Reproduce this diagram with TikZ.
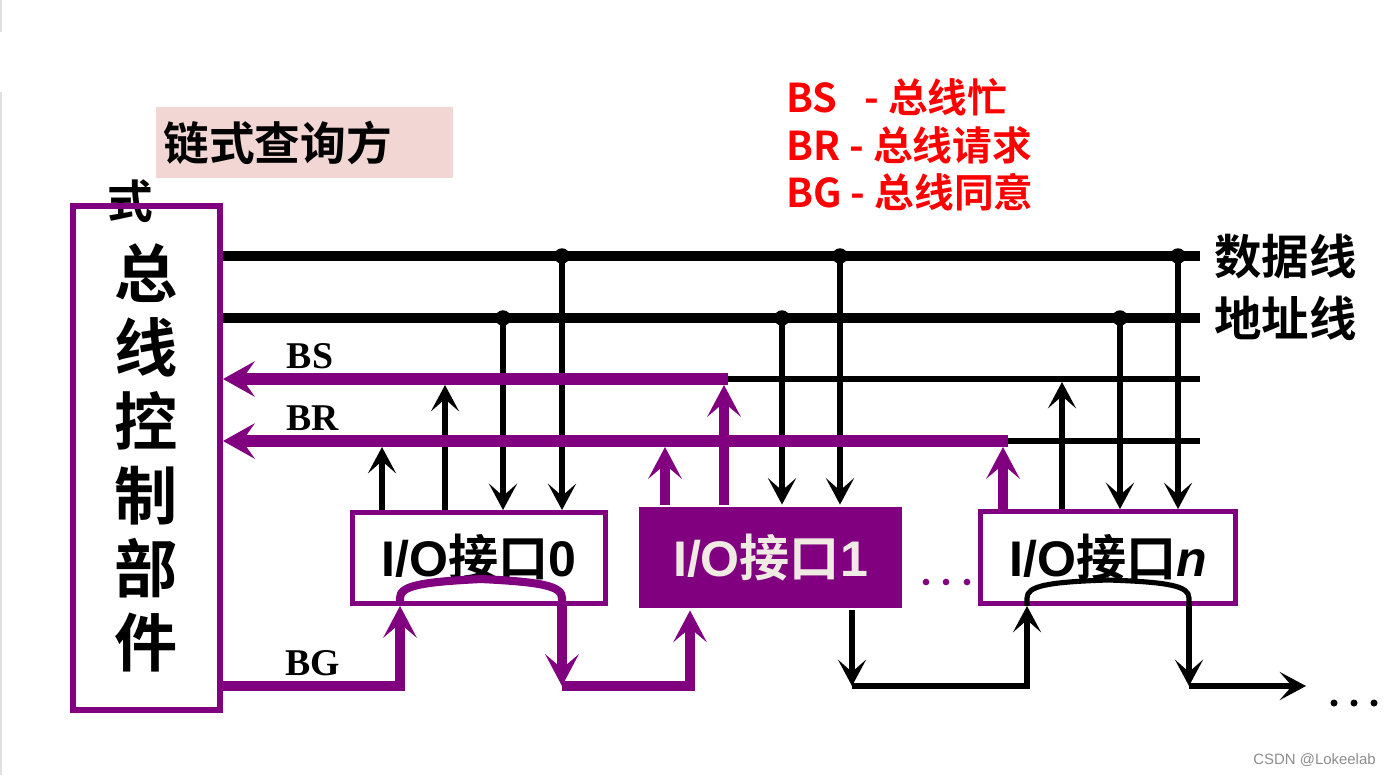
\documentclass[tikz,border=0pt]{standalone}
\usepackage{fontspec}
\usepackage{tikz}
\usetikzlibrary{arrows.meta,positioning}
\newfontfamily\cjkfont{Noto Sans CJK SC}[BoldFont={Noto Sans CJK SC Bold}]
\newfontfamily\latfont{Liberation Sans}
\newfontfamily\serfont{Liberation Serif}
\definecolor{vio}{HTML}{800080}
\definecolor{pinkbg}{HTML}{F2D6D4}
\definecolor{cream}{HTML}{EFEBE2}

\begin{document}
\begin{tikzpicture}[x=0.02cm,y=-0.02cm,
  bus/.style={line width=6.2pt},
  wire/.style={line width=2.9pt},
  pbus/.style={draw=vio,line width=6.5pt,-{Stealth[length=18pt,width=20pt,inset=7pt]}},
  barr/.style={line width=2.9pt,-{Stealth[length=15pt,width=16pt,inset=7pt]}},
  parr/.style={draw=vio,line width=5.6pt,-{Stealth[length=18pt,width=19pt,inset=8pt]}},
  iobox/.style={draw=vio,line width=2.8pt,fill=white,minimum width=5.06cm,minimum height=1.82cm,
    font=\cjkfont\bfseries\fontsize{28.5pt}{32pt}\selectfont},
  lbl/.style={inner sep=0pt,font=\serfont\bfseries\fontsize{21.5pt}{24pt}\selectfont}]

  \useasboundingbox (0,0) rectangle (1388,775);
  %\draw[color=gray] (0,0) grid[step=100] (1388,775);
  \draw[black!12,line width=1.2pt] (1,0) -- (1,32) (1,92) -- (1,775);

  % title and legend
  \node[fill=pinkbg,anchor=north west,minimum height=1.42cm,text width=5.66cm,
        inner xsep=0.14cm,inner ysep=0pt,align=left,
        font=\cjkfont\bfseries\fontsize{26pt}{30pt}\selectfont] (title) at (156,107) {链式查询方};
  \node[inner sep=0pt,font=\cjkfont\bfseries\fontsize{26pt}{30pt}\selectfont] (title2) at (130,201) {式};
  \node[anchor=west,align=left,text=red,inner sep=0pt,
        font=\cjkfont\bfseries\fontsize{22.6pt}{27pt}\selectfont] (legend) at (786,145)
        {BS\ \ \ - 总线忙\\BR - 总线请求\\BG - 总线同意};

  % control unit and interfaces
  \node[draw=vio,line width=3.4pt,minimum width=2.94cm,minimum height=10.08cm,align=center,
        font=\cjkfont\bfseries\fontsize{36pt}{42pt}\selectfont] (ctrl) at (146.5,458)
        {总\\线\\控\\制\\部\\件};
  \node[iobox] (io0) at (479,558) {{\latfont I/O}接口{\latfont 0}};
  \node[iobox,draw=none,fill=vio,text=cream,minimum width=5.26cm,minimum height=2.02cm] (io1)
        at (770.5,557.5) {{\latfont I/O}接口{\latfont 1}};
  \node[iobox,minimum width=5.1cm,minimum height=1.84cm] (ion) at (1108,557.5)
        {{\latfont I/O}接口{\latfont\itshape n}};

  % data and address lines
  \draw[bus] (ctrl.east |- 0,256) -- (1200,256) coordinate (dataR);
  \draw[bus] (ctrl.east |- 0,318) -- (1200,318) coordinate (addrR);
  \node[right=0.28cm of dataR,inner sep=0pt,font=\cjkfont\bfseries\fontsize{27pt}{30pt}\selectfont] (dlab) {数据线};
  \node[right=0.28cm of addrR,inner sep=0pt,font=\cjkfont\bfseries\fontsize{27pt}{30pt}\selectfont] (alab) {地址线};
  \foreach \x in {562,840,1178} \fill (\x,256) circle (4.4pt);
  \foreach \x in {503,782,1120} \fill (\x,318) circle (4.4pt);

  % lines down to the interfaces
  \foreach \x/\y/\n in {503/318/io0,562/256/io0,782/318/io1,840/256/io1,1120/318/ion,1178/256/ion}
    \draw[barr] (\x,\y) -- (\x,0 |- \n.north);
  \draw[barr] (382,0 |- io0.north) -- (382,447);
  \draw[barr] (445,0 |- io0.north) -- (445,385);
  \draw[barr] (1062,0 |- ion.north) -- (1062,382);

  % BS and BR
  \draw[wire] (724,379) -- (1200,379);
  \draw[wire] (1003,441) -- (1200,441);
  \draw[pbus] (728,379) -- (ctrl.east |- 0,379);
  \draw[pbus] (1008,441) -- (ctrl.east |- 0,441);
  \draw[parr] (665,0 |- io1.north) -- (665,447);
  \draw[parr] (724,0 |- io1.north) -- (724,385);
  \draw[parr] (1003,0 |- ion.north) -- (1003,447);
  \node[lbl] (bslab) at (310,356) {BS};
  \node[lbl] (brlab) at (313,418) {BR};

  % BG chain
  \draw[parr] (ctrl.east |- 0,686) -- (400,686) -- (400,0 |- io0.south);
  \draw[draw=vio,line width=4.6pt] (400,0 |- io0.south) -- (400,598)
    .. controls (400,586) and (420,582) .. (481,579)
    .. controls (542,582) and (562,586) .. (562,598) -- (562,0 |- io0.south);
  \draw[parr] (562,0 |- io0.south) -- (562,686);
  \draw[parr] (562,686) -- (690,686) -- (690,0 |- io1.south);
  \node[lbl] (bglab) at (313,663) {BG};

  \draw[barr] (852,0 |- io1.south) -- (852,686);
  \draw[barr] (852,686) -- (1027,686) -- (1027,0 |- ion.south);
  \draw[wire] (1027,0 |- ion.south) -- (1027,598)
    .. controls (1027,586) and (1047,582) .. (1108,580)
    .. controls (1169,582) and (1189,586) .. (1189,598) -- (1189,0 |- ion.south);
  \draw[barr] (1189,0 |- ion.south) -- (1189,686);
  \draw[barr] (1189,686) -- (1306,686);

  % dots
  \foreach \x in {926,946,967} \fill[vio] (\x,582) circle (1.9pt);
  \foreach \x in {1334,1354,1374} \fill (\x,703) circle (2pt);

  \node[anchor=east,inner sep=0pt,text=black!45,font=\latfont\fontsize{8.5pt}{10pt}\selectfont] (mark)
        at (1376,760) {CSDN @Lokeelab};
\end{tikzpicture}
\end{document}
